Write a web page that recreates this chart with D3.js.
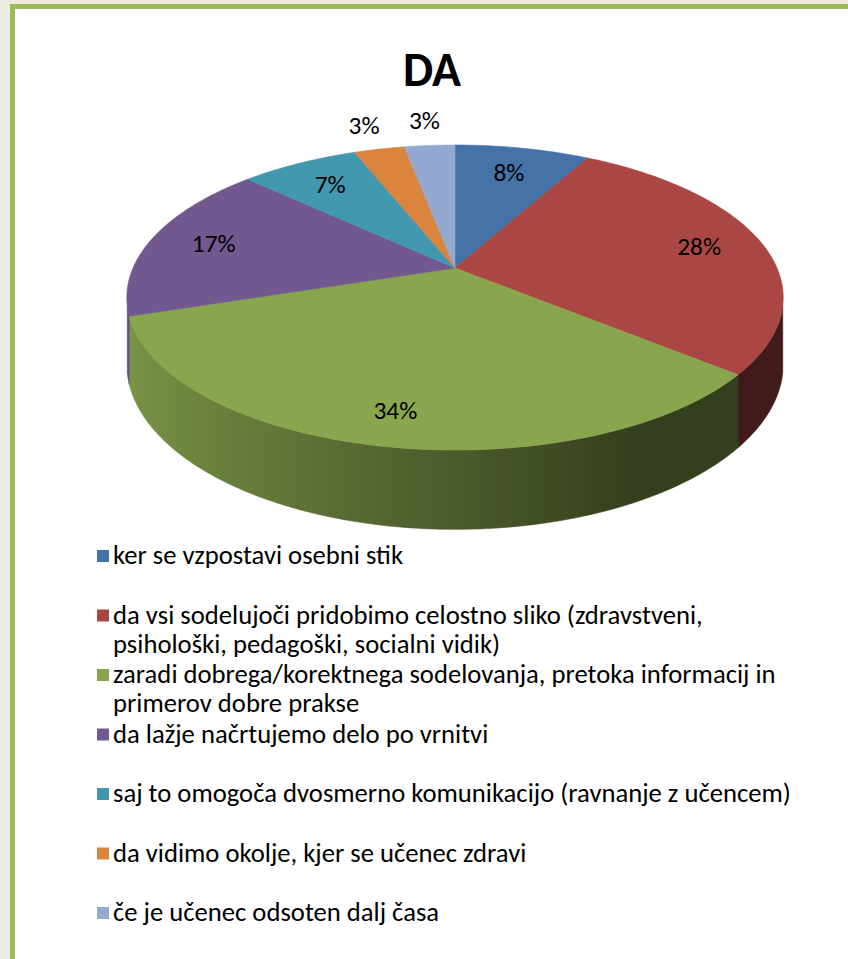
<!DOCTYPE html>
<html><head><meta charset="utf-8">
<script src="https://cdn.jsdelivr.net/npm/d3@7"></script>
<style>html,body{margin:0;padding:0;background:#eeece1;}svg{display:block;}</style>
</head><body>
<svg id="c" width="848" height="959"></svg>
<script>
const title = "DA";
const categories = [
  "ker se vzpostavi osebni stik",
  "da vsi sodelujoči pridobimo celostno sliko (zdravstveni, psihološki, pedagoški, socialni vidik)",
  "zaradi dobrega/korektnega sodelovanja, pretoka informacij in primerov dobre prakse",
  "da lažje načrtujemo delo po vrnitvi",
  "saj to omogoča dvosmerno komunikacijo (ravnanje z učencem)",
  "da vidimo okolje, kjer se učenec zdravi",
  "če je učenec odsoten dalj časa"
];
const values = [8, 28, 34, 17, 7, 3, 3];
const colors = ["#4572A7","#AA4643","#89A54E","#71588F","#4198AF","#DB843D","#93A9CF"];

const FONT = "Carlito, Calibri, Lato, sans-serif";
const svg = d3.select("#c");
const defs = svg.append("defs");

// frame
svg.append("rect").attr("x",0).attr("y",0).attr("width",848).attr("height",959).attr("fill","#eeece1");
svg.append("rect").attr("x",12.5).attr("y",6.5).attr("width",900).attr("height",1000)
  .attr("fill","#ffffff").attr("stroke","#9bbb59").attr("stroke-width",5);

function fitSize(text, weight, base, target){
  const t = svg.append("text").attr("font-family",FONT).attr("font-weight",weight)
    .attr("font-size",base).text(text);
  const w = t.node().getComputedTextLength(); t.remove();
  return base * target / w;
}

// title
const titleSize = fitSize(title, "bold", 40, 58);
svg.append("text").attr("x",432).attr("y",86).attr("text-anchor","middle")
  .attr("font-family",FONT).attr("font-weight","bold").attr("font-size",titleSize).text(title);

// 3D pie projection
const cx = 455, cy = 268, B = 322, A = 146.8, k = 0.1935, H = 64;
function proj(a, r){
  const u = Math.sin(a)*r, v = -Math.cos(a)*r;
  const s = 1/(1 - k*v);
  return [cx + B*u*s, cy + A*v*s, s];
}
function shadeF(a){
  const u = Math.sin(a);
  return Math.max(0.38, 0.55 - 0.36*u);
}
function shade(col, a){
  const f = shadeF(a), c = d3.rgb(col);
  return d3.rgb(c.r*f, c.g*f, c.b*f).toString();
}

const pie = d3.pie().sort(null).value(d => d)(values);
const gSide = svg.append("g"), gTop = svg.append("g"), gLab = svg.append("g");

// sides (visible front part only), filled with horizontal shading gradients
const aMin = Math.acos(-(k + 0.05)), aMax = 2*Math.PI - aMin;
const gx1 = cx - B*1.05, gx2 = cx + B*1.05;
pie.forEach((p, i) => {
  const a0 = Math.max(p.startAngle, aMin), a1 = Math.min(p.endAngle, aMax);
  if (a1 <= a0) return;
  const n = Math.max(4, Math.ceil((a1 - a0)/(Math.PI/180)));
  const top = [], bot = [], stops = [];
  for (let j = 0; j <= n; j++){
    const a = a0 + (a1 - a0)*j/n;
    const q = proj(a, 1);
    top.push([q[0], q[1]]);
    bot.push([q[0], q[1] + H*q[2]]);
    stops.push({o: (q[0]-gx1)/(gx2-gx1), c: shade(colors[i], a)});
  }
  stops.sort((x, y) => x.o - y.o);
  const gid = "side" + i;
  const lg = defs.append("linearGradient").attr("id", gid)
    .attr("gradientUnits","userSpaceOnUse").attr("x1", gx1).attr("x2", gx2).attr("y1",0).attr("y2",0);
  stops.forEach(s => lg.append("stop").attr("offset", s.o).attr("stop-color", s.c));
  const pts = top.concat(bot.reverse());
  gSide.append("path").attr("d", d3.line()(pts) + "Z")
    .attr("fill", `url(#${gid})`).attr("stroke", `url(#${gid})`).attr("stroke-width", 0.6);
});

// top faces
pie.forEach((p, i) => {
  const n = Math.max(4, Math.ceil((p.endAngle - p.startAngle)/(Math.PI/180)));
  const pts = [[cx, cy]];
  for (let j = 0; j <= n; j++){
    const a = p.startAngle + (p.endAngle - p.startAngle)*j/n;
    const q = proj(a,1); pts.push([q[0], q[1]]);
  }
  gTop.append("path").attr("d", d3.line()(pts) + "Z")
    .attr("fill", colors[i]).attr("stroke", colors[i]).attr("stroke-width", 0.6);
});

// labels
const labSize = fitSize("8%", "normal", 22, 31);
pie.forEach((p, i) => {
  const mid = (p.startAngle + p.endAngle)/2;
  const q = proj(mid, 1);
  const f = values[i] < 5 ? 1.2 : 0.8;
  const x = cx + f*(q[0]-cx), y = cy + f*(q[1]-cy);
  gLab.append("text").attr("x", x).attr("y", y).attr("text-anchor","middle")
    .attr("dominant-baseline","central").attr("font-family",FONT).attr("font-size",labSize)
    .attr("fill","#000").text(values[i] + "%");
});

// legend
const legSize = fitSize(categories[4], "normal", 22, 678);
const legX = 97, textX = 113, base0 = 564, pitch = 59.5, lineH = 29, maxW = 700;
const gLeg = svg.append("g");
categories.forEach((c, i) => {
  const y = base0 + i*pitch;
  gLeg.append("rect").attr("x", legX).attr("y", y - 14).attr("width", 12).attr("height", 12)
    .attr("fill", colors[i]);
  const t = gLeg.append("text").attr("font-family",FONT).attr("font-size",legSize).attr("fill","#000");
  const words = c.split(" ");
  let line = [], ln = 0;
  let ts = t.append("tspan").attr("x", textX).attr("y", y);
  words.forEach(w => {
    line.push(w); ts.text(line.join(" "));
    if (ts.node().getComputedTextLength() > maxW && line.length > 1){
      line.pop(); ts.text(line.join(" "));
      line = [w]; ln++;
      ts = t.append("tspan").attr("x", textX).attr("y", y + ln*lineH).text(w);
    }
  });
});
</script>
</body></html>
